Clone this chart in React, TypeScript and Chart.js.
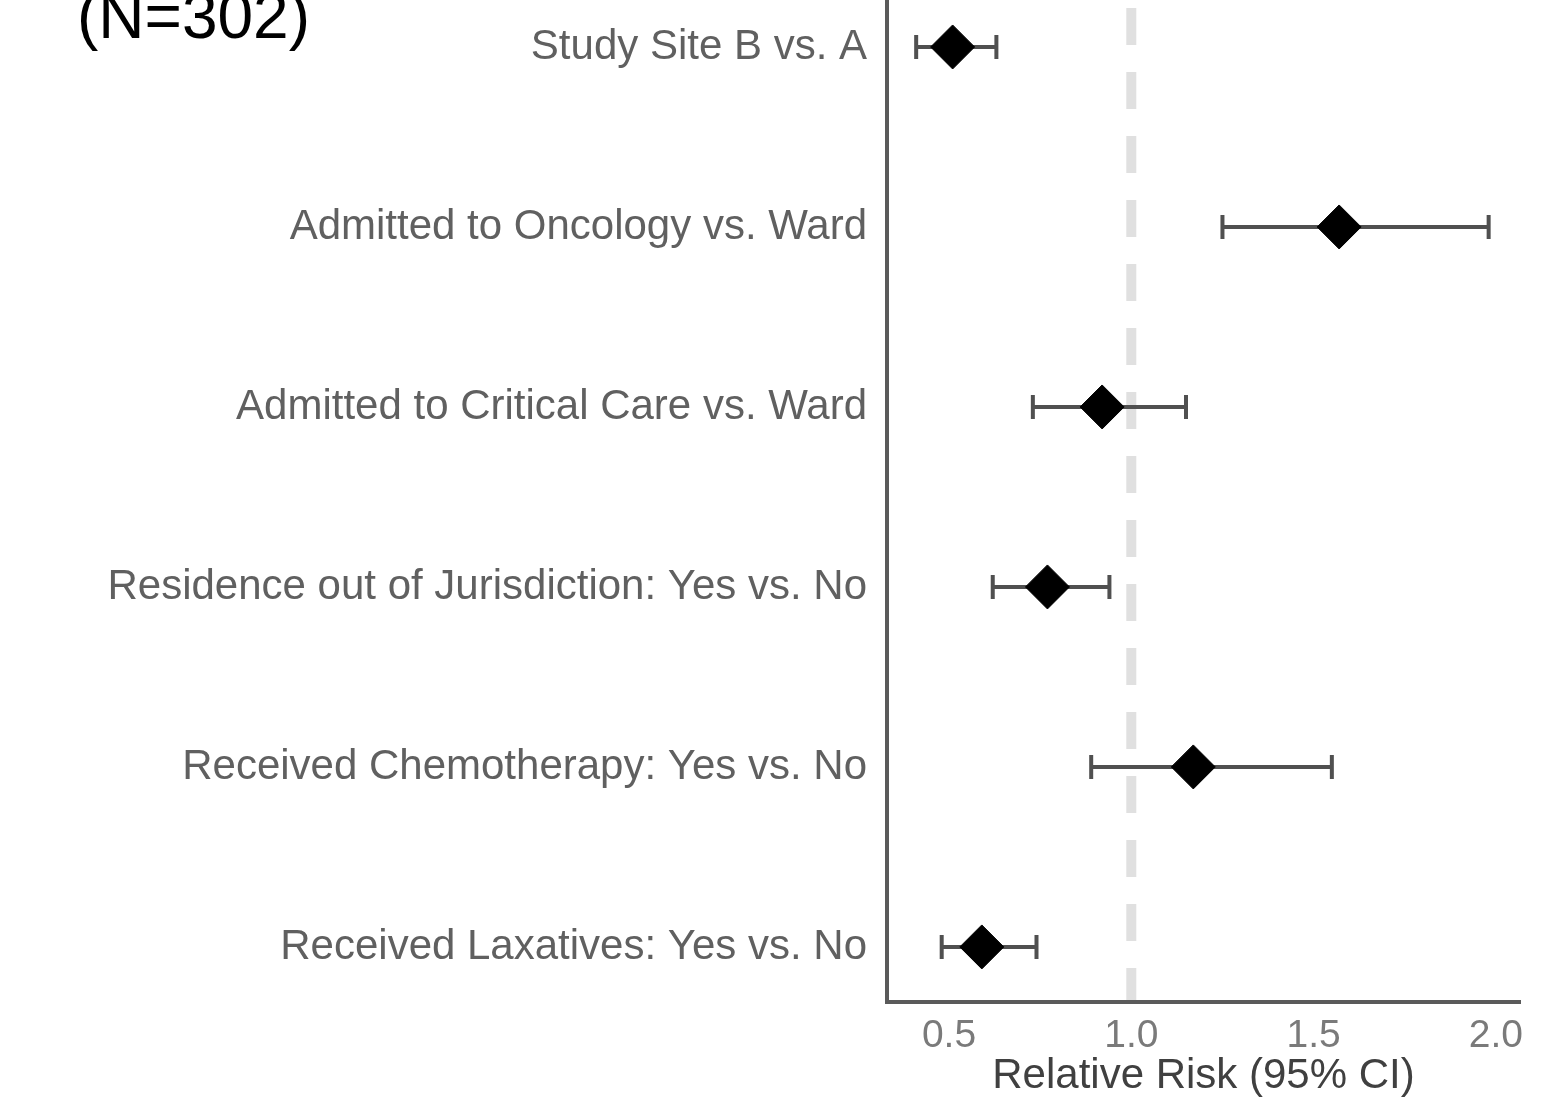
import React, { useEffect, useRef } from "react";
import { Chart, registerables } from "chart.js";

Chart.register(...registerables);

const categories = [
  "Study Site B vs. A",
  "Admitted to Oncology vs. Ward",
  "Admitted to Critical Care vs. Ward",
  "Residence out of Jurisdiction: Yes vs. No",
  "Received Chemotherapy: Yes vs. No",
  "Received Laxatives: Yes vs. No",
];
const estimates = [0.51, 1.57, 0.92, 0.77, 1.17, 0.59];
const lowerCI = [0.41, 1.25, 0.73, 0.62, 0.89, 0.48];
const upperCI = [0.63, 1.98, 1.15, 0.94, 1.55, 0.74];
const xTickValues = [0.5, 1.0, 1.5, 2.0];
const referenceValue = 1.0;
const titleText = "(N=302)";
const xAxisTitle = "Relative Risk (95% CI)";

const FONT = "'Liberation Sans', Arial, sans-serif";

export default function App() {
  const ref = useRef<HTMLCanvasElement | null>(null);

  useEffect(() => {
    if (!ref.current) return;

    const forestPlugin = {
      id: "forest",
      beforeDatasetsDraw(chart: any) {
        const ctx = chart.ctx;
        const xs = chart.scales.x;
        const ys = chart.scales.y;
        const area = chart.chartArea;
        ctx.save();
        // reference dashed line
        const rx = xs.getPixelForValue(referenceValue);
        ctx.strokeStyle = "#e0e0e0";
        ctx.lineWidth = 10;
        ctx.setLineDash([37, 27]);
        ctx.lineDashOffset = 56;
        ctx.beginPath();
        ctx.moveTo(rx, area.top);
        ctx.lineTo(rx, area.bottom - 2);
        ctx.stroke();
        ctx.setLineDash([]);
        // error bars
        ctx.strokeStyle = "#505050";
        ctx.lineWidth = 4;
        for (let i = 0; i < estimates.length; i++) {
          const y = ys.getPixelForValue(i);
          const x1 = xs.getPixelForValue(lowerCI[i]);
          const x2 = xs.getPixelForValue(upperCI[i]);
          ctx.beginPath();
          ctx.moveTo(x1, y);
          ctx.lineTo(x2, y);
          ctx.moveTo(x1, y - 12);
          ctx.lineTo(x1, y + 12);
          ctx.moveTo(x2, y - 12);
          ctx.lineTo(x2, y + 12);
          ctx.stroke();
        }
        ctx.restore();
      },
      afterDraw(chart: any) {
        const ctx = chart.ctx;
        ctx.save();
        ctx.fillStyle = "#000";
        ctx.font = `64px ${FONT}`;
        ctx.textAlign = "left";
        ctx.textBaseline = "alphabetic";
        ctx.fillText(titleText, 77, 38);
        ctx.restore();
      },
    };

    const chart = new Chart(ref.current, {
      type: "scatter",
      data: {
        datasets: [
          {
            data: estimates.map((v, i) => ({ x: v, y: i })),
            pointStyle: "rectRot",
            pointRadius: 22,
            pointHoverRadius: 22,
            backgroundColor: "#000",
            borderColor: "#000",
            borderWidth: 1,
          },
        ],
      },
      options: {
        responsive: false,
        animation: false,
        events: [],
        layout: { autoPadding: false, padding: { left: 0, right: 27, top: 0, bottom: 0 } },
        plugins: {
          legend: { display: false },
          tooltip: { enabled: false },
          title: { display: false },
        },
        scales: {
          x: {
            type: "linear",
            min: 0.33,
            max: 2.066,
            grid: { display: false },
            border: { display: true, color: "#5a5a5a", width: 4 },
            afterBuildTicks: (scale: any) => {
              scale.ticks = xTickValues.map((v) => ({ value: v }));
            },
            afterFit: (scale: any) => {
              scale.height = 95;
              scale.paddingLeft = 0;
              scale.paddingRight = 0;
              scale.paddingTop = 0;
              scale.paddingBottom = 0;
            },
            ticks: {
              color: "#7a7a7a",
              font: { family: FONT, size: 39 },
              padding: 3,
              maxRotation: 0,
              autoSkip: false,
              callback: (v: any) => Number(v).toFixed(1),
            },
            title: {
              display: true,
              text: xAxisTitle,
              color: "#404040",
              font: { family: FONT, size: 42, lineHeight: 1 },
              padding: { top: 0, bottom: 0 },
            },
          },
          y: {
            type: "linear",
            reverse: true,
            min: -0.261,
            max: 5.306,
            grid: { display: false },
            border: { display: true, color: "#5a5a5a", width: 4 },
            afterBuildTicks: (scale: any) => {
              scale.ticks = categories.map((_, i) => ({ value: i }));
            },
            afterFit: (scale: any) => {
              scale.width = 887;
              scale.paddingLeft = 0;
              scale.paddingRight = 0;
              scale.paddingTop = 0;
              scale.paddingBottom = 0;
            },
            ticks: {
              color: "#606060",
              font: { family: FONT, size: 42 },
              padding: 12,
              autoSkip: false,
              callback: (v: any) => categories[Math.round(Number(v))] ?? "",
            },
          },
        },
      },
      plugins: [forestPlugin],
    });

    return () => chart.destroy();
  }, []);

  return (
    <div style={{ position: "fixed", left: 0, top: 0, width: 1547, height: 1097, background: "#fff" }}>
      <canvas ref={ref} width={1547} height={1097} style={{ display: "block" }} />
    </div>
  );
}
